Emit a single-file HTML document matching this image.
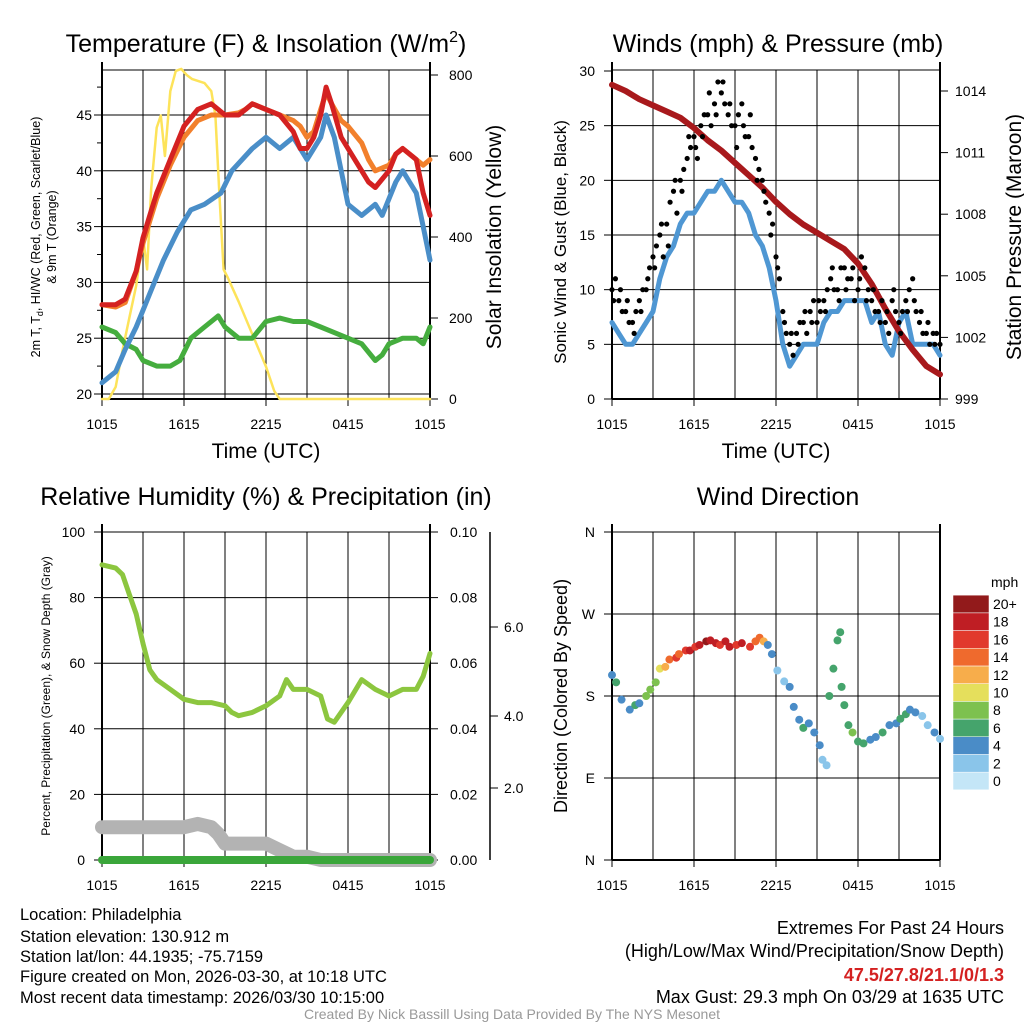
<!DOCTYPE html>
<html><head><meta charset="utf-8"><style>
html,body{margin:0;padding:0;background:#fff;}
svg{display:block;font-family:"Liberation Sans",Arial,sans-serif;}
</style></head><body>
<svg id="s" width="1024" height="1024" viewBox="0 0 1024 1024"></svg>
<script>
// ===== DATA =====
const hours48 = [0,0.5,1,1.5,2,2.5,3,3.5,4,4.5,5,5.5,6,6.5,7,7.5,8,8.5,9,9.5,10,10.5,11,11.5,12,12.5,13,13.5,14,14.5,15,15.5,16,16.5,17,17.5,18,18.5,19,19.5,20,20.5,21,21.5,22,22.5,23,23.5,24];
const xTickLabels = ["1015","1615","2215","0415","1015"];
const tempHours = [0,1,1.7,2.5,3,3.5,4,5,6,7,8,8.5,9,10,10.5,11,12,13,14,14.5,15,15.5,16,16.4,16.8,17.5,18,19,19.5,20,21,21.5,22,23,23.5,24];
const tempRed =   [28,28,28.5,31,34,36,38,41,44,45.5,46,45.5,45,45,45.5,46,45.5,45,43.5,42,42,43,45,47.5,46,43,42,40,39,38.5,40,41.5,42,41,38,36];
const tempOrange =[28,27.8,28.2,31,33.5,35.5,37.5,40.5,43,44.5,45,45,45,45.2,45.5,46,45.5,45,44.5,44,43,43.5,45.5,47,46,44.5,44,42.5,41,40,40.5,41.5,42,41,40.5,41];
const dewHours =  [0,1,1.7,2.5,3.5,4.5,5.5,6.5,7.5,8.7,9.5,11,12,13,14,14.5,15,16,16.4,17,17.5,18,19,20,20.5,21.5,22,22.5,23,23.5,24];
const dewBlue =   [21,22,24,26,29,32,34.5,36.5,37,38,40,42,43,42,43,42,41,43,45,43,40,37,36,37,36,39,40,39,38,35,32];
const heatHours = [0,1,1.7,2.5,3,4,5,5.7,6.5,7.5,8.5,9,10,11,12,13,14,15,16,17,18,19,20,20.5,21,22,23,23.5,24];
const heatGreen = [26,25.5,24.5,24,23,22.5,22.5,23,25,26,27,26,25,25,26.5,26.8,26.5,26.5,26,25.5,25,24.5,23,23.5,24.5,25,25,24.5,26];
const solarHours =[0,0.5,1,1.5,2,2.5,3,3.3,3.6,4,4.3,4.6,5,5.4,5.8,6.2,6.6,7.5,8,8.3,8.6,8.9,9.2,10,11,12,12.6,13,24];
const solarYellow=[0,0,30,120,200,280,400,320,520,670,700,600,760,810,815,800,790,780,760,700,500,320,300,240,160,80,20,0,0];
const windBlue = [7,6,5,5,6,7,8,11,13,14,16,17,17,18,19,19,20,19,18,18,17,15,14,12,9,5,3,4,5,5,5,7,8,8,9,9,9,9,7,8,5,4,7,8,5,5,5,5,4];
const gustBlack =[10,9,8,7,9,10,13,15,16,19,20,22,24,25,26,27,28,26,25,27,24,22,20,17,13,8,5,6,7,8,7,9,11,10,12,11,10,12,9,8,7,9,7,9,11,7,6,6,5];
const gustBlack2=[11,8,7,8,10,12,14,13,18,17,21,23,22,26,25,29,27,25,26,24,23,21,18,16,11,6,4,7,6,9,8,10,10,12,11,9,13,10,8,9,6,8,8,10,8,6,5,6];
const gustBlack3=[9,10,9,6,8,11,12,16,14,20,19,24,23,24,28,26,29,27,23,25,26,20,19,15,12,7,6,5,8,7,9,8,12,9,10,12,11,9,10,7,8,10,6,8,9,8,7,5];
const presHours = [0,1,2,3,4,5,6,7,8,9,10,11,12,13,14,15,16,17,18,19,20,21,22,23,24];
const presMaroon= [1014.3,1014.0,1013.6,1013.3,1013.0,1012.7,1012.2,1011.6,1011.1,1010.5,1009.9,1009.3,1008.6,1008.0,1007.5,1007.1,1006.7,1006.3,1005.6,1004.6,1003.4,1002.3,1001.4,1000.6,1000.2];
const rhHours = [0,1,1.5,2,2.5,3,3.5,4,5,6,7,8,9,9.5,10,11,12,13,13.5,14,15,16,16.5,17,18,19,20,21,22,22.5,23,23.5,24];
const rhGreen = [90,89,87,81,75,66,58,55,52,49,48,48,47,45,44,45,47,50,55,52,52,50,43,42,48,55,52,50,52,52,52,56,63];
const snowHours = [0,2,4,6,7,8,8.5,9,10,11,12,13,14,15,16,17,18,19,20,21,22,23,24];
const snowGray  = [10,10,10,10,11,10,8,5,5,5,5,3,1,1,0,0,0,0,0,0,0,0,0];
const precipHours=[0,24];
const precipIn = [0,0];
const dirHours = [0,0.3,0.7,1.3,1.7,2.0,2.5,2.8,3.2,3.5,3.9,4.2,4.7,4.9,5.4,5.7,6.1,6.4,6.9,7.2,7.6,7.9,8.3,8.6,9.1,9.5,10.1,10.5,10.8,11.1,11.4,11.7,12.1,12.6,13.0,13.3,13.7,14.0,14.4,14.8,15.2,15.4,15.7,15.9,16.2,16.5,16.7,16.8,17.0,17.3,17.6,18.0,18.4,18.9,19.3,19.8,20.3,20.8,21.1,21.5,21.8,22.2,22.7,23.1,23.6,24.0];
const dirDeg =   [203,195,176,165,170,172,180,187,195,210,212,220,222,226,230,230,234,236,240,241,238,236,240,234,236,238,234,240,244,240,236,226,208,196,190,168,154,145,150,140,126,110,104,180,210,241,250,190,170,148,140,130,128,132,135,140,148,150,155,160,165,162,158,148,140,133];
const dirSpeed = [4,6,4,4,6,4,8,8,8,10,12,14,16,14,16,18,16,18,20,18,18,16,18,18,16,18,16,14,14,12,4,4,2,2,4,4,4,6,4,4,4,2,2,6,6,6,6,6,6,6,8,6,6,4,4,6,4,4,6,6,4,4,2,2,4,2];
const speedBins = ["0","2","4","6","8","10","12","14","16","18","20+"];
const binColors = ["#c4e6f7","#8ac5ea","#4a8cc7","#45a46c","#7dc14f","#e5df5c","#f7ad4b","#ef6a2d","#e1392d","#bf1e24","#921a1b"];

// ===== HELPERS =====
const S=document.getElementById('s');const NS="http://www.w3.org/2000/svg";
function mk(tag,attrs,parent){const e=document.createElementNS(NS,tag);for(const k in attrs)e.setAttribute(k,attrs[k]);(parent||S).appendChild(e);return e;}
function txt(x,y,t,size,anchor,extra){const e=mk('text',Object.assign({x:x,y:y,'font-size':size,'text-anchor':anchor||'middle',fill:'#000'},extra||{}));e.textContent=t;return e;}
function lin(d0,d1,r0,r1){return v=>r0+(v-d0)*(r1-r0)/(d1-d0);}
function poly(xs,ys,fx,fy,color,w,name){const p=mk('polyline',{points:xs.map((h,i)=>fx(h).toFixed(1)+','+fy(ys[i]).toFixed(1)).join(' '),fill:'none',stroke:color,'stroke-width':w,'stroke-linejoin':'round','stroke-linecap':'round'});

return p;}

function frame(x0,y0,x1,y1,name){
  const g=mk('rect',{x:x0,y:y0,width:x1-x0,height:y1-y0,fill:'none',stroke:'#000','stroke-width':1});
  
  
  for(let i=1;i<8;i++){const x=x0+(x1-x0)*i/8;mk('line',{x1:x,y1:y0,x2:x,y2:y1,stroke:'#000','stroke-width':1});}
  mk('line',{x1:x0,y1:y0-8,x2:x0,y2:y1,stroke:'#000','stroke-width':2});
  mk('line',{x1:x0,y1:y1,x2:x1,y2:y1,stroke:'#000','stroke-width':2});
  xTickLabels.forEach((l,i)=>{const x=x0+(x1-x0)*i/4;const t=txt(x,y1+30,l,14);
    
    
    mk('line',{x1:x,y1:y1,x2:x,y2:y1+7,stroke:'#000'});});
}
function hgrid(x0,x1,ys){ys.forEach(y=>mk('line',{x1:x0,y1:y,x2:x1,y2:y,stroke:'#000','stroke-width':1}));}

// ===== PANEL 1 =====
{const x0=102,x1=430,y0=70,y1=399;
 const fx=lin(0,24,x0,x1),fy=lin(20,45,394,115),fs=lin(0,800,399,75);
 hgrid(x0,x1,[20,25,30,35,40,45].map(fy));
 frame(x0,y0,x1,y1,'temperature-plot-frame');
 mk('line',{x1:x1,y1:y0-8,x2:x1,y2:y1,stroke:'#000','stroke-width':2});
 [20,25,30,35,40,45].forEach(v=>{const t=txt(x0-10,fy(v)+5,String(v),14,'end');mk('line',{x1:x0-8,y1:fy(v),x2:x0,y2:fy(v),stroke:'#000'});});
 for(let v=22.5;v<49;v+=5)mk('line',{x1:x0-5,y1:fy(v),x2:x0,y2:fy(v),stroke:'#000'});
 [0,200,400,600,800].forEach(v=>{const t=txt(x1+19,fs(v)+5,String(v),14,'start');mk('line',{x1:x1,y1:fs(v),x2:x1+8,y2:fs(v),stroke:'#000'});});
 poly(solarHours,solarYellow,fx,fs,'#fde35a',2.5,'solar-insolation-line');
 poly(heatHours,heatGreen,fx,fy,'#45ad3e',5,'dewpoint-green-line');
 poly(dewHours,dewBlue,fx,fy,'#4a8ec8',5,'heat-index-blue-line');
 poly(tempHours,tempOrange,fx,fy,'#f2802c',5,'9m-temp-orange-line');
 poly(tempHours,tempRed,fx,fy,'#d42121',5,'2m-temp-red-line');
 let t=mk('text',{x:266,y:52,'font-size':25,'text-anchor':'middle'});t.innerHTML='Temperature (F) &amp; Insolation (W/m<tspan dy="-10" font-size="16">2</tspan><tspan dy="10">)</tspan>';
 
 t=txt(266,458,'Time (UTC)',21);
 t=mk('text',{x:0,y:0,'font-size':12.5,'text-anchor':'middle',transform:'translate(40,237) rotate(-90)'});t.innerHTML='2m T, T<tspan dy="3" font-size="9">d</tspan><tspan dy="-3">, HI/WC (Red, Green, Scarlet/Blue)</tspan>';
 
 t=txt(0,0,'& 9m T (Orange)',12.5,'middle',{transform:'translate(56,237) rotate(-90)'});
 t=txt(0,0,'Solar Insolation (Yellow)',21,'middle',{transform:'translate(501,237) rotate(-90)'});
}
// ===== PANEL 2 =====
{const x0=612,x1=940,y0=70,y1=399;
 const fx=lin(0,24,x0,x1),fy=lin(0,30,399,71),fp=lin(999,1014,399,91);
 hgrid(x0,x1,[5,10,15,20,25].map(fy));
 frame(x0,y0,x1,y1,'winds-plot-frame');
 mk('line',{x1:x1,y1:y0-8,x2:x1,y2:y1,stroke:'#000','stroke-width':2});
 [0,5,10,15,20,25,30].forEach(v=>{const t=txt(x0-17,fy(v)+5,String(v),14,'end');mk('line',{x1:x0-8,y1:fy(v),x2:x0,y2:fy(v),stroke:'#000'});});
 [999,1002,1005,1008,1011,1014].forEach(v=>{const t=txt(x1+15,fp(v)+5,String(v),14,'start');mk('line',{x1:x1,y1:fp(v),x2:x1+8,y2:fp(v),stroke:'#000'});});
 poly(hours48,windBlue,fx,fy,'#4f97d3',5,'sonic-wind-line');
 poly(presHours,presMaroon,fx,fp,'#a8191c',6,'station-pressure-line');
 gustBlack.forEach((v,i)=>{const c=mk('circle',{cx:fx(hours48[i]),cy:fy(v),r:2.6,fill:'#000'});});
 gustBlack2.forEach((v,i)=>{const c=mk('circle',{cx:fx(hours48[i]+0.25),cy:fy(v),r:2.6,fill:'#000'});});
 gustBlack3.forEach((v,i)=>{const c=mk('circle',{cx:fx(hours48[i]+0.12),cy:fy(v),r:2.6,fill:'#000'});});
 let t=txt(778,52,'Winds (mph) & Pressure (mb)',25);
 t=txt(776,458,'Time (UTC)',21);
 t=txt(0,0,'Sonic Wind & Gust (Blue, Black)',17,'middle',{transform:'translate(566,242) rotate(-90)'});
 t=txt(0,0,'Station Pressure (Maroon)',21,'middle',{transform:'translate(1021,237) rotate(-90)'});
}
// ===== PANEL 3 =====
{const x0=102,x1=430,y0=532,y1=860;
 const fx=lin(0,24,x0,x1),fy=lin(0,100,860,532);
 hgrid(x0,x1,[20,40,60,80].map(fy));
 frame(x0,y0,x1,y1,'humidity-plot-frame');
 mk('line',{x1:x1,y1:y0-8,x2:x1,y2:y1,stroke:'#000','stroke-width':2});
 [0,20,40,60,80,100].forEach(v=>{const t=txt(x0-17,fy(v)+5,String(v),14,'end');mk('line',{x1:x0-8,y1:fy(v),x2:x0,y2:fy(v),stroke:'#000'});});
 ["0.00","0.02","0.04","0.06","0.08","0.10"].forEach((l,i)=>{const y=fy(i*20);const t=txt(x1+20,y+5,l,14,'start');mk('line',{x1:x1,y1:y,x2:x1+8,y2:y,stroke:'#000'});});
 mk('line',{x1:490,y1:y0,x2:490,y2:y1,stroke:'#000','stroke-width':1.5});
 [["2.0",788],["4.0",716],["6.0",627]].forEach(a=>{const t=txt(504,a[1]+5,a[0],14,'start');mk('line',{x1:490,y1:a[1],x2:498,y2:a[1],stroke:'#000'});});
 poly(snowHours,snowGray,fx,fy,'#b3b3b3',14,'snow-depth-line');
 poly(precipHours,precipIn.map(v=>v*1000),fx,fy,'#3aa63a',8,'precipitation-line');
 poly(rhHours,rhGreen,fx,fy,'#8cc63f',5,'relative-humidity-line');
 let t=txt(266,505,'Relative Humidity (%) & Precipitation (in)',25);
 t=txt(0,0,'Percent, Precipitation (Green), & Snow Depth (Gray)',12,'middle',{transform:'translate(50,696) rotate(-90)'});
}
// ===== PANEL 4 =====
{const x0=612,x1=940,y0=532,y1=860;
 const fx=lin(0,24,x0,x1),fy=lin(0,360,860,532);
 hgrid(x0,x1,[90,180,270].map(fy));
 frame(x0,y0,x1,y1,'wind-direction-plot-frame');
 mk('line',{x1:x1,y1:y0-8,x2:x1,y2:y1,stroke:'#000','stroke-width':2});
 ["N","E","S","W","N"].forEach((l,i)=>{const y=fy(i*90);const t=txt(x0-17,y+5,l,14,'end');mk('line',{x1:x0-8,y1:y,x2:x0,y2:y,stroke:'#000'});});
 dirDeg.forEach((d,i)=>{let b=Math.min(10,Math.round(dirSpeed[i]/2));const c=mk('circle',{cx:fx(dirHours[i]),cy:fy(d),r:4,fill:binColors[b]});});
 let t=txt(778,505,'Wind Direction',25);
 t=txt(0,0,'Direction (Colored By Speed)',18,'middle',{transform:'translate(567,696) rotate(-90)'});
 t=txt(991,587,'mph',14,'start');
 speedBins.forEach((l,i)=>{const y=781-i*17.7;const r=mk('rect',{x:953,y:y-8.85,width:36,height:17.7,fill:binColors[i],stroke:'#fff','stroke-width':0.5});
   
   const tt=txt(993,y+5,l,14,'start');});
}
// ===== FOOTER TEXT =====
[["Location: Philadelphia",920],["Station elevation: 130.912 m",942],["Station lat/lon: 44.1935; -75.7159",962],["Figure created on Mon, 2026-03-30, at 10:18 UTC",982],["Most recent data timestamp: 2026/03/30 10:15:00",1003]].forEach(a=>{const t=txt(20,a[1],a[0],16.5,'start');});
[["Extremes For Past 24 Hours",934,'#000','normal'],["(High/Low/Max Wind/Precipitation/Snow Depth)",957,'#000','normal'],["47.5/27.8/21.1/0/1.3",981,'#d42121','bold'],["Max Gust: 29.3 mph On 03/29 at 1635 UTC",1003,'#000','normal']].forEach(a=>{const t=txt(1004,a[1],a[0],18,'end',{fill:a[2],'font-weight':a[3]});});
{const t=txt(512,1019,'Created By Nick Bassill Using Data Provided By The NYS Mesonet',14,'middle',{fill:'#999'});}
</script>
</body></html>
